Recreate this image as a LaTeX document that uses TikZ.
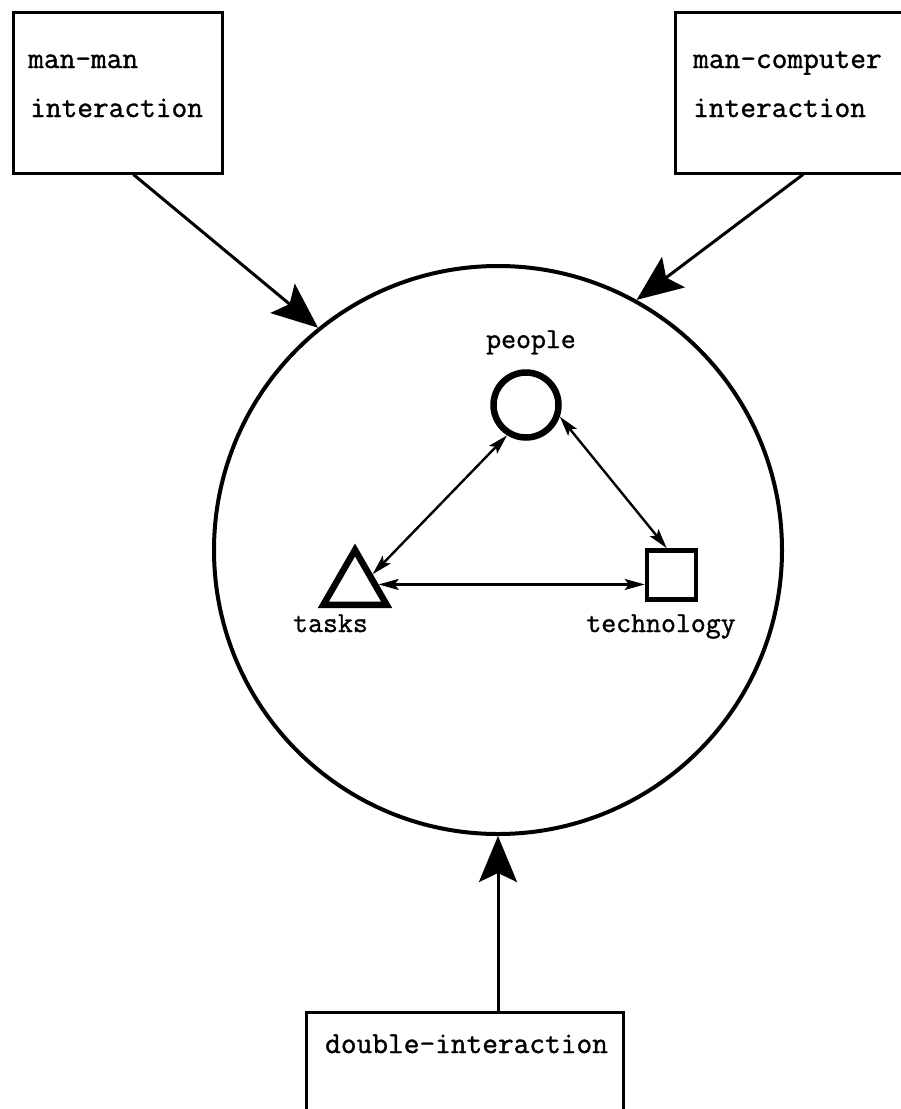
\documentclass[tikz,border=0pt]{standalone}
\usepackage{fontspec}
\setmonofont{Latin Modern Mono}[FakeBold=1.2]
\usetikzlibrary{arrows.meta,shapes.geometric,calc}
\begin{document}
\begin{tikzpicture}[x=1pt,y=-1pt,
  box/.style={draw, rectangle, line width=3pt, inner sep=0pt},
  boxtext/.style={font=\ttfamily\fontsize{30.5}{36}\selectfont, anchor=base west, inner sep=0pt},
  itemtext/.style={font=\ttfamily\fontsize{29}{34}\selectfont, anchor=base, inner sep=0pt},
  bigarrow/.style={line width=3pt, -{Stealth[length=46pt,width=38pt,inset=9pt]}},
  twoway/.style={line width=2.4pt,
    {Stealth[length=20pt,width=11pt,inset=4pt]}-{Stealth[length=20pt,width=11pt,inset=4pt]}},
]
\useasboundingbox (0,0) rectangle (901,1109);
\fill[white] (0,0) rectangle (901,1109);

% outer boxes
\node[box, minimum width=209pt, minimum height=161pt] (mm) at (117.5,92.5) {};
\node[box, minimum width=256pt, minimum height=161pt] (mc) at (803,92.5) {};
\node[box, minimum width=317pt, minimum height=158pt] (dbl) at (464.5,1091) {};

\node[boxtext] (mm1) at (28,68) {man-man};
\node[boxtext] (mm2) at (30,117) {interaction};
\node[boxtext] (mc1) at (693,68) {man-computer};
\node[boxtext] (mc2) at (693,117) {interaction};
\node[boxtext] (dbl1) at (325,1053) {double-interaction};

% system circle
\node[draw, circle, line width=4pt, minimum size=568pt, inner sep=0pt] (sys) at (498,550) {};

% people, tasks, technology
\node[draw, circle, line width=6.5pt, minimum size=65pt, inner sep=0pt] (people) at (526,405) {};
\node[draw, regular polygon, regular polygon sides=3, line width=6.5pt,
      minimum size=73pt, inner sep=0pt] (tasks) at (355,586.5) {};
\node[draw, rectangle, line width=4.5pt, minimum size=49pt, inner sep=0pt] (tech) at (671.5,575) {};

\node[itemtext] (peoplelbl) at (531,348) {people};
\node[itemtext] (taskslbl) at (330.5,632) {tasks};
\node[itemtext] (techlbl) at (661,632) {technology};

% connectors
\draw[bigarrow] (mm.-79) -- (sys.129);
\draw[bigarrow] (mc.south) -- (sys.61);
\draw[bigarrow] (dbl.north -| sys.south) -- (sys.south);

\draw[twoway] (tasks.35) -- (people.238);
\draw[twoway] (people.-19) -- (tech.100);
\draw[twoway] (tasks.5) -- (tasks.5 -| tech.west);
\end{tikzpicture}
\end{document}
